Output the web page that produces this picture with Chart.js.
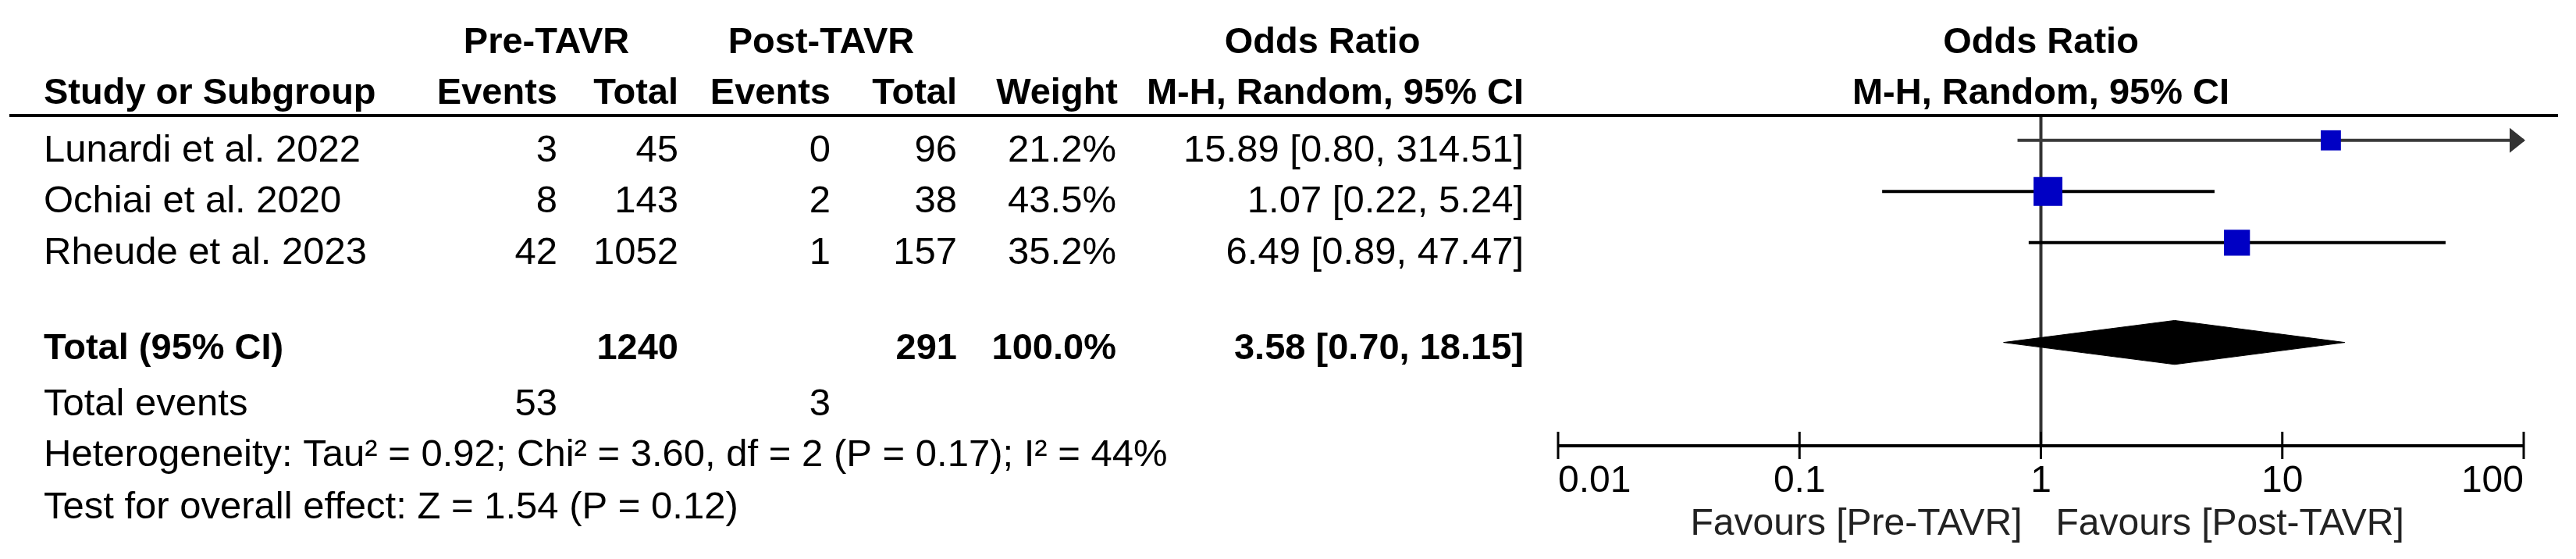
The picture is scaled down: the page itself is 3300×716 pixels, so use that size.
<!DOCTYPE html>
<html>
<head>
<meta charset="utf-8">
<title>Forest plot - Pre-TAVR vs Post-TAVR</title>
<script src="https://cdn.jsdelivr.net/npm/chart.js@4.4.1/dist/chart.umd.min.js"></script>
<style>
  html, body { margin: 0; padding: 0; background: #fff; }
  #wrap { width: 3300px; height: 716px; position: relative; }
</style>
</head>
<body>
<div id="wrap"><canvas id="forest" width="3300" height="716"></canvas></div>
<script>
// Study rows
var studies = ['Lunardi et al. 2022', 'Ochiai et al. 2020', 'Rheude et al. 2023'];
var preEvents = [3, 8, 42];
var preTotal = [45, 143, 1052];
var postEvents = [0, 2, 1];
var postTotal = [96, 38, 157];
var weights = [21.2, 43.5, 35.2];
var oddsRatio = [15.89, 1.07, 6.49];
var ciLower = [0.80, 0.22, 0.89];
var ciUpper = [314.51, 5.24, 47.47];

// Pooled result
var pooledTotals = [1240, 291];
var pooledWeight = 100.0;
var pooledOR = [3.58, 0.70, 18.15]; // estimate, lower, upper
var totalEvents = [53, 3];
var heterogeneityText = 'Heterogeneity: Tau\u00B2 = 0.92; Chi\u00B2 = 3.60, df = 2 (P = 0.17); I\u00B2 = 44%';
var overallText = 'Test for overall effect: Z = 1.54 (P = 0.12)';

// Axis
var tickValues = [0.01, 0.1, 1, 10, 100];
var tickLabels = ['0.01', '0.1', '1', '10', '100'];
var favourLabels = ['Favours [Pre-TAVR]', 'Favours [Post-TAVR]'];

// Layout (row positions on the y scale, in rows from the header rule)
var rowPos = [0.5, 1.5, 2.5];
var pooledRow = 4.45;
var footerRows = [5.47, 6.46, 7.47];
var yMax = 6.47;
var diamondHalf = 0.43;

function font(bold, size) {
  return (bold ? 'bold ' : '') + (size || (bold ? 47 : 49)) + 'px "Liberation Sans", Arial, Helvetica, sans-serif';
}

function txt(ctx, s, x, y, align, bold, color, size) {
  ctx.font = font(bold, size);
  ctx.textAlign = align;
  ctx.textBaseline = 'alphabetic';
  ctx.fillStyle = color || '#000';
  ctx.fillText(s, x, y);
}

function ciText(est, lo, hi) {
  return est.toFixed(2) + ' [' + lo.toFixed(2) + ', ' + hi.toFixed(2) + ']';
}

// Left-hand table, headers and footer text
var tablePlugin = {
  id: 'forestTable',
  afterDraw: function (chart) {
    var ctx = chart.ctx;
    var ys = chart.scales.y;
    var xs = chart.scales.x;
    var one = xs.getPixelForValue(1);
    ctx.save();

    // header lines
    txt(ctx, 'Pre-TAVR', 700, 68, 'center', true);
    txt(ctx, 'Post-TAVR', 1052, 68, 'center', true);
    txt(ctx, 'Odds Ratio', 1694, 68, 'center', true);
    txt(ctx, 'Odds Ratio', one, 68, 'center', true);
    txt(ctx, 'Study or Subgroup', 56, 133, 'left', true);
    txt(ctx, 'Events', 714, 133, 'right', true);
    txt(ctx, 'Total', 869, 133, 'right', true);
    txt(ctx, 'Events', 1064, 133, 'right', true);
    txt(ctx, 'Total', 1226, 133, 'right', true);
    txt(ctx, 'Weight', 1432, 133, 'right', true);
    txt(ctx, 'M-H, Random, 95% CI', 1952, 133, 'right', true);
    txt(ctx, 'M-H, Random, 95% CI', one, 133, 'center', true);

    // rule under the header
    ctx.strokeStyle = '#000';
    ctx.lineWidth = 4;
    ctx.beginPath();
    ctx.moveTo(12, chart.chartArea.top + 1);
    ctx.lineTo(3277, chart.chartArea.top + 1);
    ctx.stroke();

    // study rows
    for (var i = 0; i < studies.length; i++) {
      var by = ys.getPixelForValue(rowPos[i]) + 27;
      txt(ctx, studies[i], 56, by, 'left', false);
      txt(ctx, String(preEvents[i]), 714, by, 'right', false);
      txt(ctx, String(preTotal[i]), 869, by, 'right', false);
      txt(ctx, String(postEvents[i]), 1064, by, 'right', false);
      txt(ctx, String(postTotal[i]), 1226, by, 'right', false);
      txt(ctx, weights[i].toFixed(1) + '%', 1430, by, 'right', false);
      txt(ctx, ciText(oddsRatio[i], ciLower[i], ciUpper[i]), 1952, by, 'right', false);
    }

    // pooled row
    var ty = ys.getPixelForValue(pooledRow) + 21;
    txt(ctx, 'Total (95% CI)', 56, ty, 'left', true);
    txt(ctx, String(pooledTotals[0]), 869, ty, 'right', true);
    txt(ctx, String(pooledTotals[1]), 1226, ty, 'right', true);
    txt(ctx, pooledWeight.toFixed(1) + '%', 1430, ty, 'right', true);
    txt(ctx, ciText(pooledOR[0], pooledOR[1], pooledOR[2]), 1952, ty, 'right', true);

    // footer
    var ey = ys.getPixelForValue(footerRows[0]) + 27;
    txt(ctx, 'Total events', 56, ey, 'left', false);
    txt(ctx, String(totalEvents[0]), 714, ey, 'right', false);
    txt(ctx, String(totalEvents[1]), 1064, ey, 'right', false);
    txt(ctx, heterogeneityText, 56, ys.getPixelForValue(footerRows[1]) + 27, 'left', false);
    txt(ctx, overallText, 56, ys.getPixelForValue(footerRows[2]) + 27, 'left', false);

    ctx.restore();
  }
};

// Log axis with ticks crossing the line, plus arrowheads for clipped CIs
var axisPlugin = {
  id: 'logAxis',
  afterDatasetsDraw: function (chart) {
    var ctx = chart.ctx;
    var xs = chart.scales.x;
    var ys = chart.scales.y;
    var base = chart.chartArea.bottom;
    var last = tickValues.length - 1;
    ctx.save();
    ctx.strokeStyle = '#000';
    ctx.lineWidth = 4;
    ctx.beginPath();
    ctx.moveTo(xs.getPixelForValue(tickValues[0]), base);
    ctx.lineTo(xs.getPixelForValue(tickValues[last]), base);
    ctx.stroke();

    ctx.lineWidth = 3;
    tickValues.forEach(function (v, i) {
      var px = xs.getPixelForValue(v);
      ctx.beginPath();
      ctx.moveTo(px, base - 18);
      ctx.lineTo(px, base + 17);
      ctx.stroke();
      var align = i === 0 ? 'left' : (i === last ? 'right' : 'center');
      txt(ctx, tickLabels[i], px, base + 59, align, false, '#000', 48);
    });

    var one = xs.getPixelForValue(1);
    txt(ctx, favourLabels[0], one - 24, base + 114, 'right', false, '#222', 48);
    txt(ctx, favourLabels[1], one + 19, base + 114, 'left', false, '#222', 48);

    // arrowheads where a CI runs off the axis
    ctx.fillStyle = '#333';
    for (var i = 0; i < studies.length; i++) {
      var py = ys.getPixelForValue(rowPos[i]);
      if (ciUpper[i] > xs.max) {
        var tip = xs.getPixelForValue(xs.max) + 2;
        ctx.beginPath();
        ctx.moveTo(tip, py);
        ctx.lineTo(tip - 20, py - 16);
        ctx.lineTo(tip - 20, py + 16);
        ctx.closePath();
        ctx.fill();
      }
      if (ciLower[i] < xs.min) {
        var tipL = xs.getPixelForValue(xs.min) - 2;
        ctx.beginPath();
        ctx.moveTo(tipL, py);
        ctx.lineTo(tipL + 20, py - 16);
        ctx.lineTo(tipL + 20, py + 16);
        ctx.closePath();
        ctx.fill();
      }
    }
    ctx.restore();
  }
};

// Datasets: index 0 is drawn on top
var squares = {
  label: 'Odds ratio',
  data: oddsRatio.map(function (v, i) { return { x: v, y: rowPos[i] }; }),
  pointStyle: 'rect',
  pointRadius: weights.map(function (w) { return 5.6 * Math.sqrt(w) / Math.SQRT2; }),
  pointHoverRadius: weights.map(function (w) { return 5.6 * Math.sqrt(w) / Math.SQRT2; }),
  pointBackgroundColor: '#0000C4',
  pointBorderWidth: 0,
  showLine: false
};

var whiskers = studies.map(function (s, i) {
  return {
    label: s,
    data: [{ x: ciLower[i], y: rowPos[i] }, { x: ciUpper[i], y: rowPos[i] }],
    showLine: true,
    borderColor: i === 0 ? '#3a3a3a' : '#000',
    borderWidth: 4,
    pointRadius: 0
  };
});

var diamond = {
  label: 'Total (95% CI)',
  data: [
    { x: pooledOR[1], y: pooledRow },
    { x: pooledOR[0], y: pooledRow - diamondHalf },
    { x: pooledOR[2], y: pooledRow },
    { x: pooledOR[0], y: pooledRow + diamondHalf },
    { x: pooledOR[1], y: pooledRow }
  ],
  showLine: true,
  fill: 'shape',
  backgroundColor: '#000',
  borderColor: '#000',
  borderWidth: 1,
  pointRadius: 0,
  tension: 0
};

var nullLine = {
  label: 'No effect',
  data: [{ x: 1, y: 0 }, { x: 1, y: yMax }],
  showLine: true,
  borderColor: '#333',
  borderWidth: 4,
  pointRadius: 0
};

var ctx = document.getElementById('forest').getContext('2d');
var forestChart = new Chart(ctx, {
  type: 'scatter',
  data: { datasets: [squares].concat(whiskers, [diamond, nullLine]) },
  options: {
    responsive: false,
    animation: false,
    devicePixelRatio: 1,
    layout: { padding: { left: 1996, right: 67, top: 147, bottom: 145 } },
    plugins: { legend: { display: false }, tooltip: { enabled: false } },
    scales: {
      x: { type: 'logarithmic', min: tickValues[0], max: tickValues[tickValues.length - 1], display: false },
      y: { type: 'linear', min: 0, max: yMax, reverse: true, display: false }
    }
  },
  plugins: [tablePlugin, axisPlugin]
});
</script>
</body>
</html>
